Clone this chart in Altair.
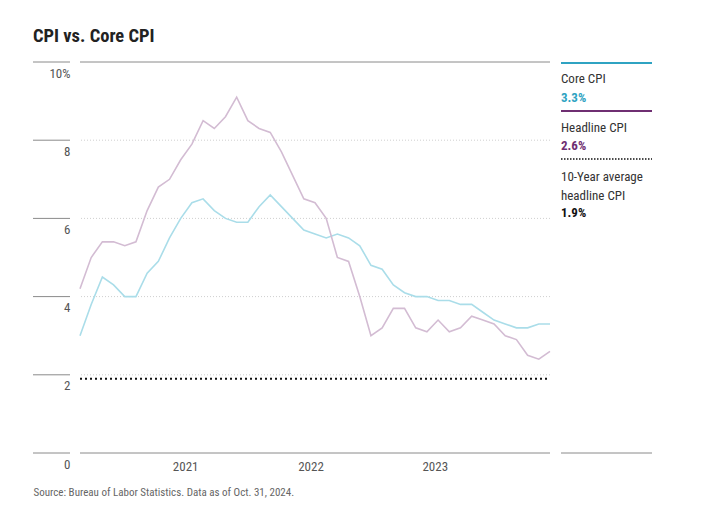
import altair as alt
import pandas as pd

# ---- data (monthly YoY %, Apr 2021 - Oct 2024) ----
months = pd.date_range("2021-04-01", "2024-10-01", freq="MS").strftime("%Y-%m").tolist()
core_cpi = [3.0, 3.8, 4.5, 4.3, 4.0, 4.0, 4.6, 4.9, 5.5, 6.0, 6.4, 6.5, 6.2, 6.0, 5.9,
            5.9, 6.3, 6.6, 6.3, 6.0, 5.7, 5.6, 5.5, 5.6, 5.5, 5.3, 4.8, 4.7, 4.3, 4.1,
            4.0, 4.0, 3.9, 3.9, 3.8, 3.8, 3.6, 3.4, 3.3, 3.2, 3.2, 3.3, 3.3]
headline_cpi = [4.2, 5.0, 5.4, 5.4, 5.3, 5.4, 6.2, 6.8, 7.0, 7.5, 7.9, 8.5, 8.3, 8.6, 9.1,
                8.5, 8.3, 8.2, 7.7, 7.1, 6.5, 6.4, 6.0, 5.0, 4.9, 4.0, 3.0, 3.2, 3.7, 3.7,
                3.2, 3.1, 3.4, 3.1, 3.2, 3.5, 3.4, 3.3, 3.0, 2.9, 2.5, 2.4, 2.6]
avg_10yr = 1.9
y_ticks = [0, 2, 4, 6, 8, 10]
x_tick_pos = [9.4, 20.6, 31.7]          # month index where year labels sit
x_tick_labels = ["2021", "2022", "2023"]
legend_names = ["Core CPI", "Headline CPI", "10-Year average", "headline CPI"]
legend_values = ["3.3%", "2.6%", "1.9%"]

FONT = "'Roboto Condensed', 'Liberation Sans Narrow', Roboto, sans-serif"
CORE_LIGHT = "#aadde9"
HEAD_LIGHT = "#d3bcd3"
CORE_DARK = "#2fa3c2"
HEAD_DARK = "#6f2f72"

n = len(months)
df = pd.DataFrame({
    "idx": list(range(n)) * 2,
    "month": months * 2,
    "value": core_cpi + headline_cpi,
    "series": ["Core CPI"] * n + ["Headline CPI"] * n,
})
avg_df = pd.DataFrame({"x0": [0], "x1": [n - 1], "y": [avg_10yr]})
ticks_df = pd.DataFrame({"y": y_ticks})
solid_df = pd.DataFrame({"y": [y_ticks[0], y_ticks[-1]]})
dotted_df = pd.DataFrame({"y": y_ticks[1:-1]})

W, H = 470, 391
xs = alt.Scale(domain=[0, n - 1], nice=False, zero=False)
ys = alt.Scale(domain=[0, 10], nice=False)

x_axis = alt.Axis(
    values=x_tick_pos,
    labelExpr="{" + ",".join(f"'{p}':'{l}'" for p, l in zip(x_tick_pos, x_tick_labels)) + "}[datum.value + '']",
    domain=False, ticks=False, grid=False, labelPadding=7, labelBaseline="top",
    labelFontSize=13, labelColor="#555", labelFont=FONT,
    title="Source: Bureau of Labor Statistics. Data as of Oct. 31, 2024.",
    titleX=-47, titleY=42, titleAlign="left", titleBaseline="alphabetic", titleAnchor="start",
    titleFontSize=11, titleFontWeight="normal", titleColor="#666", titleFont=FONT,
)
y_axis = alt.Axis(
    values=y_ticks, domain=False, ticks=False, grid=False,
    labelExpr="datum.value == 10 ? '10%' : datum.label",
    labelPadding=10, labelBaseline="top", labelOffset=5,
    labelFontSize=13, labelColor="#555", labelFont=FONT, title=None,
)

grid_solid = alt.Chart(solid_df).mark_rule(color="#8a8a8a", strokeWidth=1).encode(
    y=alt.Y("y:Q", scale=ys, axis=y_axis))
grid_dotted = alt.Chart(dotted_df).mark_rule(color="#cfcfcf", strokeWidth=1, strokeDash=[1, 2]).encode(
    y=alt.Y("y:Q", scale=ys))
left_ticks = alt.Chart(ticks_df).mark_rule(color="#8a8a8a", strokeWidth=1).encode(
    y=alt.Y("y:Q", scale=ys), x=alt.value(-47), x2=alt.value(-10))

lines = alt.Chart(df).mark_line(strokeWidth=1.6).encode(
    x=alt.X("idx:Q", scale=xs, axis=x_axis),
    y=alt.Y("value:Q", scale=ys),
    color=alt.Color("series:N", scale=alt.Scale(domain=["Core CPI", "Headline CPI"],
                                                range=[CORE_LIGHT, HEAD_LIGHT]), legend=None),
)
avg_rule = alt.Chart(avg_df).mark_rule(color="#111", strokeWidth=2, strokeDash=[2, 3]).encode(
    x=alt.X("x0:Q", scale=xs), x2="x1:Q", y=alt.Y("y:Q", scale=ys))

# ---- right-hand key ----
LX0, LX1 = 481, 572
def key_rule(ypix, color, width, dash=None):
    kw = dict(color=color, strokeWidth=width)
    if dash:
        kw["strokeDash"] = dash
    return alt.Chart(ticks_df.head(1)).mark_rule(**kw).encode(
        x=alt.value(LX0), x2=alt.value(LX1), y=alt.value(ypix))

def key_text(txt, ypix, color="#333", bold=False):
    return alt.Chart(ticks_df.head(1)).mark_text(
        align="left", baseline="alphabetic", font=FONT, fontSize=13,
        fontWeight="bold" if bold else "normal", color=color).encode(
        x=alt.value(LX0), y=alt.value(ypix), text=alt.value(txt))

key = [
    key_rule(1, CORE_DARK, 2),
    key_text(legend_names[0], 21),
    key_text(legend_values[0], 40, CORE_DARK, True),
    key_rule(49, HEAD_DARK, 2),
    key_text(legend_names[1], 70),
    key_text(legend_values[1], 88, HEAD_DARK, True),
    key_rule(97, "#111", 1.5, [1.5, 1.5]),
    key_text(legend_names[2], 119),
    key_text(legend_names[3], 138),
    key_text(legend_values[2], 155, "#111", True),
    key_rule(H, "#8a8a8a", 1),
]

chart = alt.layer(grid_dotted, grid_solid, left_ticks, lines, avg_rule, *key).properties(
    width=W, height=H,
    background="white",
    title=alt.TitleParams("CPI vs. Core CPI", anchor="start", frame="group", dx=-47,
                          offset=1, baseline="alphabetic", fontSize=18.5, fontWeight="bold",
                          font=FONT, color="#222"),
    autosize=alt.AutoSizeParams(type="none"),
    padding={"left": 72, "top": 54, "right": 152, "bottom": 55},
).configure_view(strokeWidth=0, stroke="transparent")

chart.save("out.html", embed_options={"renderer": "svg", "actions": False})
